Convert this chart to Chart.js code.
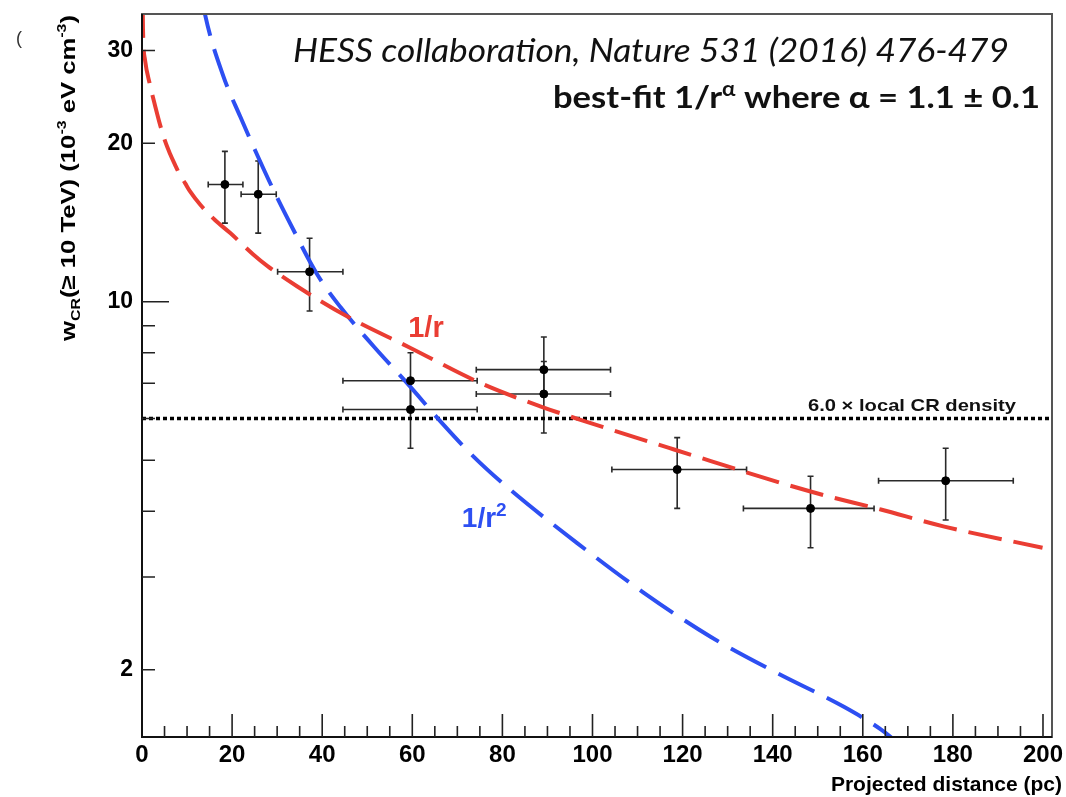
<!DOCTYPE html>
<html>
<head>
<meta charset="utf-8">
<script src="https://cdn.jsdelivr.net/npm/chart.js@4.4.0/dist/chart.umd.min.js"></script>
<style>
  html, body { margin: 0; padding: 0; background: #fff; }
  #cr { display: block; }
</style>
</head>
<body>
<canvas id="cr" width="1066" height="797"></canvas>
<script>
// measured CR energy density per distance bin (pc, 1e-3 eV cm^-3)
const binX  = [18.4, 25.8, 37.2, 59.6, 59.6, 89.2, 89.2, 118.8, 148.4, 178.4];
const xLow  = [14.7, 22.0, 30.1, 44.6, 44.6, 74.2, 74.2, 104.3, 133.5, 163.5];
const xHigh = [22.4, 29.8, 44.6, 74.4, 74.4, 104.0, 104.0, 134.2, 162.5, 193.4];
const wcr   = [16.7, 16.0, 11.4, 7.08, 6.24, 7.43, 6.68, 4.80, 4.05, 4.57];
const wLow  = [14.1, 13.5, 9.6, 6.25, 5.27, 6.68, 5.63, 4.05, 3.41, 3.85];
const wHigh = [19.3, 18.5, 13.2, 8.0, 7.08, 8.57, 7.70, 5.52, 4.66, 5.27];

// 1/r profile
const redX = [0.05, 0.22, 0.67, 1.78, 2.89, 4.0, 5.11, 6.22, 7.33, 8.44, 9.56, 10.67, 12.9, 16.2, 19.6, 24.7, 27.8, 34.4, 45.6, 59.6, 75.1, 88.4, 99.6, 118.1, 148.4, 164, 178.1, 199.9];
const redY = [45, 32.9, 28.8, 25.8, 23.6, 21.7, 20.2, 19.1, 18.2, 17.4, 16.8, 16.2, 15.3, 14.3, 13.5, 12.3, 11.7, 10.7, 9.37, 8.17, 7.01, 6.33, 5.88, 5.24, 4.36, 4.03, 3.74, 3.41];

// 1/r^2 profile
const blueX = [13.3, 14.0, 18.07, 21.78, 25.1, 29.18, 33.6, 38.8, 44.0, 51.4, 58.8, 66.6, 73.6, 81.8, 96.6, 111.4, 126.2, 141.0, 155.8, 164, 170];
const blueY = [38, 35.1, 26.8, 22.5, 19.4, 16.3, 13.7, 11.3, 9.78, 8.23, 7.01, 5.88, 5.08, 4.39, 3.48, 2.80, 2.31, 1.97, 1.70, 1.54, 1.40];

const localLevel = 6.0;
const yTicks  = [2, 3, 4, 5, 6, 7, 8, 9, 10, 20, 30];
const yLabels = [2, 10, 20, 30];
const xLabels = [0, 20, 40, 60, 80, 100, 120, 140, 160, 180, 200];

const RED = '#ea3d33', BLUE = '#2d4ff2';
const HELV = '"Liberation Sans", Arial, sans-serif';

function pairs(xs, ys) { return xs.map((v, i) => ({x: v, y: ys[i]})); }

// draw a run of text pieces (with sub/superscripts) scaled to a given width
function drawRuns(ctx, runs, x, y, width, align) {
  let total = 0;
  runs.forEach(r => { ctx.font = r.font; r.w = ctx.measureText(r.t).width; total += r.w; });
  const sx = width ? width / total : 1;
  ctx.save();
  ctx.translate(x, y);
  ctx.scale(sx, 1);
  let cx = align === 'right' ? -total : 0;
  ctx.textAlign = 'left';
  ctx.textBaseline = 'alphabetic';
  runs.forEach(r => { ctx.font = r.font; ctx.fillText(r.t, cx, r.dy || 0); cx += r.w; });
  ctx.restore();
}

const errorBars = {
  id: 'errorBars',
  beforeDatasetsDraw(chart) {
    const {ctx, chartArea: a, scales: {x, y}} = chart;
    ctx.save();
    ctx.beginPath();
    ctx.rect(a.left, a.top, a.right - a.left, a.bottom - a.top);
    ctx.clip();
    ctx.strokeStyle = '#2a2a2a';
    ctx.lineWidth = 1.6;
    const cap = 3;
    for (let i = 0; i < binX.length; i++) {
      const px = x.getPixelForValue(binX[i]), py = y.getPixelForValue(wcr[i]);
      const x0 = x.getPixelForValue(xLow[i]), x1 = x.getPixelForValue(xHigh[i]);
      const y0 = y.getPixelForValue(wLow[i]), y1 = y.getPixelForValue(wHigh[i]);
      ctx.beginPath();
      ctx.moveTo(x0, py); ctx.lineTo(x1, py);
      ctx.moveTo(px, y0); ctx.lineTo(px, y1);
      ctx.moveTo(x0, py - cap); ctx.lineTo(x0, py + cap);
      ctx.moveTo(x1, py - cap); ctx.lineTo(x1, py + cap);
      ctx.moveTo(px - cap, y0); ctx.lineTo(px + cap, y0);
      ctx.moveTo(px - cap, y1); ctx.lineTo(px + cap, y1);
      ctx.stroke();
    }
    ctx.restore();
  }
};

const frameAndText = {
  id: 'frameAndText',
  afterDraw(chart) {
    const {ctx, chartArea: a, scales: {x, y}} = chart;
    ctx.save();
    // frame
    ctx.strokeStyle = '#555';
    ctx.lineWidth = 2;
    ctx.strokeRect(a.left, a.top, a.right - a.left, a.bottom - a.top);
    ctx.strokeStyle = '#111';
    ctx.beginPath();
    ctx.moveTo(a.left, a.top); ctx.lineTo(a.left, a.bottom); ctx.lineTo(a.right, a.bottom);
    ctx.stroke();

    // inward ticks
    ctx.lineWidth = 1.6;
    ctx.strokeStyle = '#222';
    ctx.beginPath();
    for (let v = 5; v <= 200; v += 5) {
      const px = x.getPixelForValue(v);
      const len = v % 20 === 0 ? 23 : 11;
      ctx.moveTo(px, a.bottom); ctx.lineTo(px, a.bottom - len);
    }
    yTicks.forEach(v => {
      const py = y.getPixelForValue(v);
      const len = v === 10 ? 27 : 13;
      ctx.moveTo(a.left, py); ctx.lineTo(a.left + len, py);
    });
    ctx.stroke();

    // curve labels
    ctx.fillStyle = RED;
    ctx.font = 'bold 29px ' + HELV;
    ctx.textAlign = 'left';
    ctx.textBaseline = 'alphabetic';
    ctx.fillText('1/r', x.getPixelForValue(59.1), y.getPixelForValue(8.58));
    ctx.fillStyle = BLUE;
    drawRuns(ctx, [
      {t: '1/r', font: 'bold 28px ' + HELV},
      {t: '2', font: 'bold 19px ' + HELV, dy: -11}
    ], x.getPixelForValue(71.0), y.getPixelForValue(3.74), 0, 'left');

    // reference level label
    ctx.fillStyle = '#111';
    drawRuns(ctx, [{t: '6.0 \u00d7 local CR density', font: 'bold 17px ' + HELV}],
      x.getPixelForValue(194), y.getPixelForValue(6.2), 208, 'right');

    // citation and fit result
    drawRuns(ctx, [{t: 'HESS collaboration, Nature 531 (2016) 476-479', font: 'italic 32px Lato, "Open Sans", sans-serif'}],
      293, 62, 716, 'left');
    drawRuns(ctx, [
      {t: 'best-fit 1/r', font: 'bold 31px Lato, "Open Sans", sans-serif'},
      {t: '\u03b1', font: 'bold 20px Lato, "Open Sans", sans-serif', dy: -12},
      {t: ' where \u03b1 = 1.1 \u00b1 0.1', font: 'bold 31px Lato, "Open Sans", sans-serif'}
    ], 1040, 108, 487, 'right');

    // axis titles
    ctx.fillStyle = '#000';
    drawRuns(ctx, [{t: 'Projected distance (pc)', font: 'bold 21px ' + HELV}], 1062, 791, 0, 'right');

    ctx.save();
    ctx.translate(75, 341);
    ctx.rotate(-Math.PI / 2);
    drawRuns(ctx, [
      {t: 'w', font: 'bold 21px ' + HELV},
      {t: 'CR', font: 'bold 13px ' + HELV, dy: 5},
      {t: '(\u2265 10 TeV) (10', font: 'bold 21px ' + HELV},
      {t: '-3', font: 'bold 13px ' + HELV, dy: -9},
      {t: ' eV cm', font: 'bold 21px ' + HELV},
      {t: '-3', font: 'bold 13px ' + HELV, dy: -9},
      {t: ')', font: 'bold 21px ' + HELV}
    ], 0, 0, 326, 'left');
    ctx.restore();

    ctx.fillStyle = '#333';
    ctx.font = '18px ' + HELV;
    ctx.fillText('(', 16, 44);
    ctx.restore();
  }
};

new Chart(document.getElementById('cr'), {
  type: 'scatter',
  data: {
    datasets: [
      {
        label: 'data',
        data: pairs(binX, wcr),
        pointRadius: 4,
        pointBackgroundColor: '#000',
        pointBorderColor: '#000',
        showLine: false
      },
      {
        label: '1/r',
        data: pairs(redX, redY),
        showLine: true,
        borderColor: RED,
        borderWidth: 4,
        borderDash: [34, 12],
        pointRadius: 0,
        cubicInterpolationMode: 'monotone'
      },
      {
        label: '1/r2',
        data: pairs(blueX, blueY),
        showLine: true,
        borderColor: BLUE,
        borderWidth: 4,
        borderDash: [40, 14],
        pointRadius: 0,
        cubicInterpolationMode: 'monotone'
      },
      {
        label: 'local',
        data: [{x: 0, y: localLevel}, {x: 202, y: localLevel}],
        showLine: true,
        borderColor: '#000',
        borderWidth: 3.5,
        borderDash: [4, 3],
        pointRadius: 0
      }
    ]
  },
  options: {
    responsive: false,
    animation: false,
    layout: { padding: { left: 0, right: 14, top: 14, bottom: 0 } },
    plugins: { legend: { display: false }, tooltip: { enabled: false } },
    scales: {
      x: {
        type: 'linear',
        min: 0,
        max: 202,
        grid: { display: false, drawTicks: false },
        border: { display: false },
        afterFit: s => { s.height = 60; s.paddingLeft = 0; s.paddingRight = 0; },
        ticks: {
          stepSize: 20,
          includeBounds: false,
          padding: 4,
          color: '#000',
          font: { family: HELV, size: 24, weight: 'bold' },
          maxRotation: 0,
          autoSkip: false,
          callback: v => xLabels.includes(v) ? String(v) : ''
        }
      },
      y: {
        type: 'logarithmic',
        min: 1.49,
        max: 35.2,
        grid: { display: false, drawTicks: false },
        border: { display: false },
        afterFit: s => { s.width = 142; s.paddingTop = 0; s.paddingBottom = 0; },
        afterBuildTicks: s => { s.ticks = yTicks.map(v => ({value: v})); },
        ticks: {
          autoSkip: false,
          padding: 9,
          color: '#000',
          font: { family: HELV, size: 23, weight: 'bold' },
          callback: v => yLabels.includes(v) ? String(v) : ''
        }
      }
    }
  },
  plugins: [errorBars, frameAndText]
});
</script>
</body>
</html>
